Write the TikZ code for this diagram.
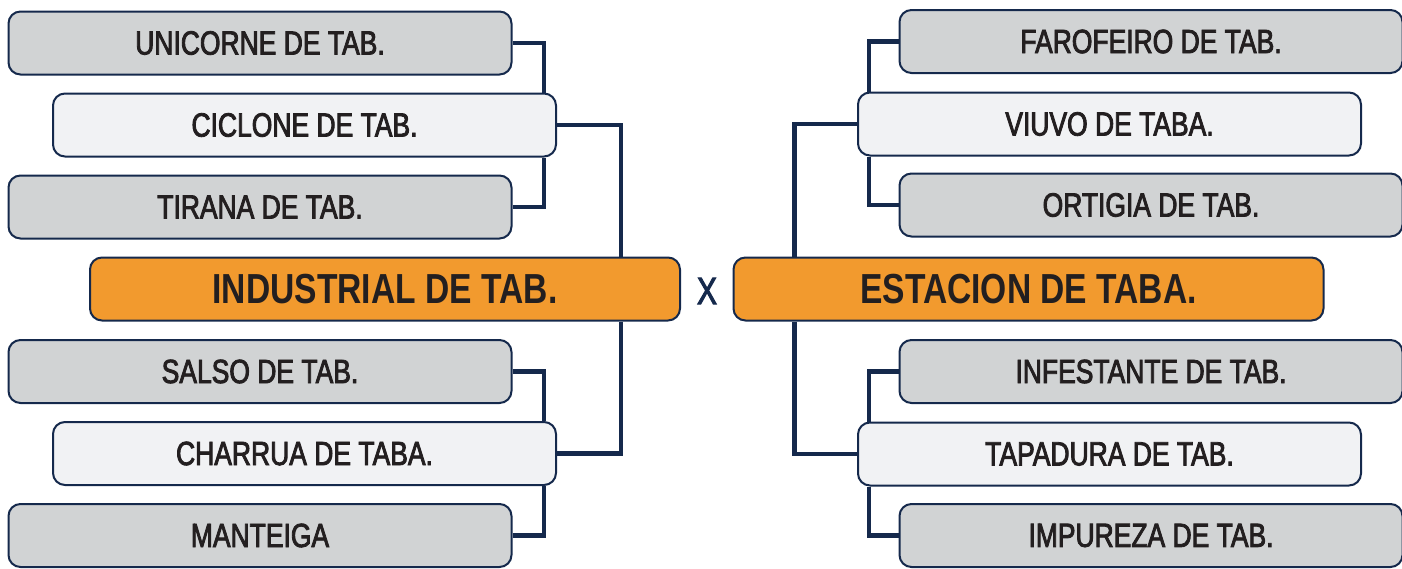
\documentclass[tikz,border=0pt]{standalone}
\usepackage{fontspec}
\setmainfont{Liberation Sans}[FakeStretch=0.8]
\newfontfamily\medfont{Liberation Sans}[FakeStretch=0.79,FakeBold=2.5]
\definecolor{navy}{HTML}{15294C}
\definecolor{greyfill}{HTML}{D1D3D4}
\definecolor{lightfill}{HTML}{F1F2F4}
\definecolor{orangefill}{HTML}{F29A2E}
\definecolor{txt}{HTML}{231F20}
\tikzset{
  box/.style={draw=navy, line width=2pt, rounded corners=12pt, minimum height=63pt,
    inner sep=0pt, text=txt, font=\medfont\fontsize{33.5}{40}\selectfont},
  greybox/.style={box, fill=greyfill, minimum width=503pt},
  lightbox/.style={box, fill=lightfill, minimum width=503pt},
  finalbox/.style={box, fill=orangefill, minimum width=590pt, font=\fontsize{42}{48}\selectfont\bfseries},
  link/.style={draw=navy, line width=4.5pt},
}
\begin{document}
\begin{tikzpicture}[x=1pt,y=-1pt]
\useasboundingbox (0,0) rectangle (1402,568);
% left side
\node[greybox]  (u)  at (260,43)    {UNICORNE DE TAB.};
\node[lightbox] (c)  at (304.5,125) {CICLONE DE TAB.};
\node[greybox]  (t)  at (260,207)   {TIRANA DE TAB.};
\node[finalbox] (i)  at (385,289)   {INDUSTRIAL DE TAB.};
\node[greybox]  (s)  at (260,371.5) {SALSO DE TAB.};
\node[lightbox] (ch) at (304.5,453.5) {CHARRUA DE TABA.};
\node[greybox]  (m)  at (260,535.5) {MANTEIGA};
% right side
\node[greybox]  (f)  at (1151,41.5)  {FAROFEIRO DE TAB.};
\node[lightbox] (v)  at (1109.5,124) {VIUVO DE TABA.};
\node[greybox]  (o)  at (1151,205)   {ORTIGIA DE TAB.};
\node[finalbox] (e)  at (1028.5,289) {ESTACION DE TABA.};
\node[greybox]  (in) at (1151,371.5) {INFESTANTE DE TAB.};
\node[lightbox] (tp) at (1109.5,454) {TAPADURA DE TAB.};
\node[greybox]  (im) at (1151,535.5) {IMPUREZA DE TAB.};
% centre
\node[text=navy, font=\medfont\fontsize{38}{44}\selectfont, inner sep=0pt] (x) at (707,291) {X};
% connectors
\draw[link] (u.east) -| ([xshift=-13pt]c.north east);
\draw[link] (t.east) -| ([xshift=-13pt]c.south east);
\draw[link] (c.east) -| ([xshift=-60pt]i.north east);
\draw[link] ([xshift=-60pt]i.south east) |- (ch.east);
\draw[link] (s.east) -| ([xshift=-13pt]ch.north east);
\draw[link] (m.east) -| ([xshift=-13pt]ch.south east);
\draw[link] (f.west) -| ([xshift=12pt]v.north west);
\draw[link] (o.west) -| ([xshift=12pt]v.south west);
\draw[link] (v.west) -| ([xshift=62pt]e.north west);
\draw[link] ([xshift=62pt]e.south west) |- (tp.west);
\draw[link] (in.west) -| ([xshift=12pt]tp.north west);
\draw[link] (im.west) -| ([xshift=12pt]tp.south west);
\end{tikzpicture}
\end{document}
